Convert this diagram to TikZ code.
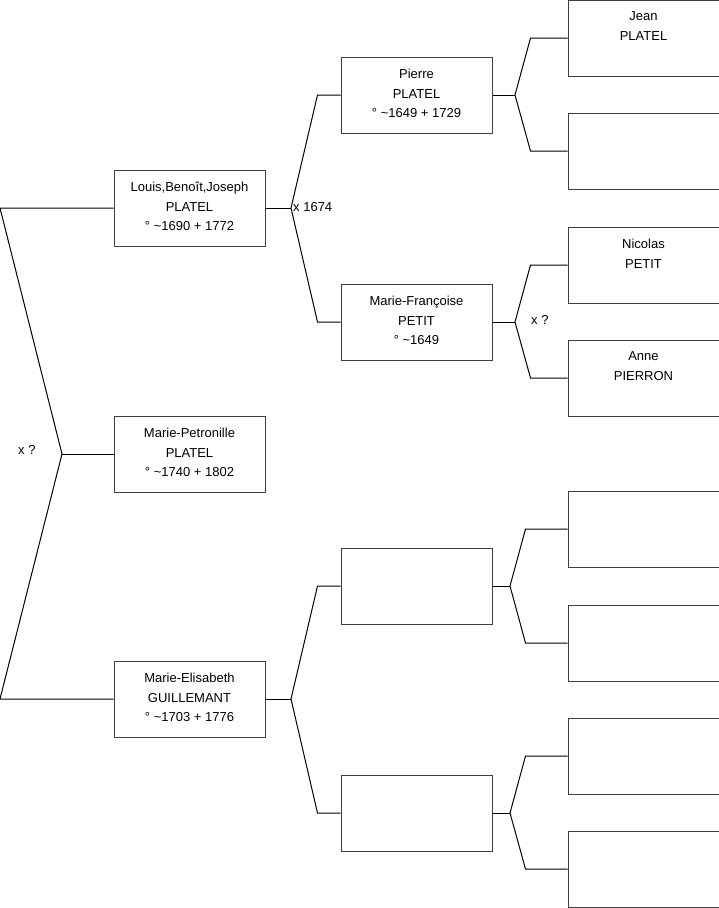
\documentclass[tikz,border=0pt]{standalone}
\usepackage{fontspec}
\setmainfont{Liberation Sans}
\usetikzlibrary{positioning}

\begin{document}
\begin{tikzpicture}[
    x=1pt, y=1pt,
    font=\fontsize{13}{19.7}\selectfont,
    person/.style={
        rectangle,
        draw=black!75,
        line width=1pt,
        inner sep=0pt,
        minimum width=151pt,
        minimum height=76pt,
        execute at begin node={\begin{minipage}[c][76pt][t]{151pt}\centering\vspace*{12pt}},
        execute at end node={\end{minipage}}
    },
    link/.style={line width=1pt},
    union/.style={anchor=west, inner sep=0pt}
]
\useasboundingbox (0,0) rectangle (719,-908);

% first generation
\node[person] (louis) at (189.5,-208) {Louis,Benoît,Joseph\\PLATEL\\° \textasciitilde1690 + 1772};
\node[person] (petronille) at (189.5,-454) {Marie-Petronille\\PLATEL\\° \textasciitilde1740 + 1802};
\node[person] (elisabeth) at (189.5,-699) {Marie-Elisabeth\\GUILLEMANT\\° \textasciitilde1703 + 1776};

% parents
\node[person] (pierre) at (416.5,-95) {Pierre\\PLATEL\\° \textasciitilde1649 + 1729};
\node[person] (francoise) at (416.5,-322) {Marie-Françoise\\PETIT\\° \textasciitilde1649};
\node[person] (pereB) at (416.5,-586) {};
\node[person] (mereB) at (416.5,-813) {};

% grand-parents
\node[person] (jean) at (643.5,-38) {Jean\\PLATEL};
\node[person] (mereP) at (643.5,-151) {};
\node[person] (nicolas) at (643.5,-265) {Nicolas\\PETIT};
\node[person] (anne) at (643.5,-378) {Anne\\PIERRON};
\node[person] (gpA) at (643.5,-529) {};
\node[person] (gpB) at (643.5,-643) {};
\node[person] (gpC) at (643.5,-756) {};
\node[person] (gpD) at (643.5,-869) {};

% fork points
\coordinate (f0) at (62,-454);
\coordinate (f1) at (291,-208);
\coordinate (f2) at (291,-699);
\coordinate (f3) at (515,-95);
\coordinate (f4) at (515,-322);
\coordinate (f5) at (510,-586);
\coordinate (f6) at (510,-813);

\draw[link] (louis.west) -- (louis.west -| 0,0) -- (f0) -- (elisabeth.west -| 0,0) -- (elisabeth.west);
\draw[link] (f0) -- (petronille.west);

\draw[link] (louis.east) -- (f1);
\draw[link] (pierre.west) -- ([xshift=-23pt]pierre.west) -- (f1) -- ([xshift=-23pt]francoise.west) -- (francoise.west);
\draw[link] (elisabeth.east) -- (f2);
\draw[link] (pereB.west) -- ([xshift=-23pt]pereB.west) -- (f2) -- ([xshift=-23pt]mereB.west) -- (mereB.west);

\draw[link] (pierre.east) -- (f3);
\draw[link] (jean.west) -- ([xshift=-37pt]jean.west) -- (f3) -- ([xshift=-37pt]mereP.west) -- (mereP.west);
\draw[link] (francoise.east) -- (f4);
\draw[link] (nicolas.west) -- ([xshift=-37pt]nicolas.west) -- (f4) -- ([xshift=-37pt]anne.west) -- (anne.west);
\draw[link] (pereB.east) -- (f5);
\draw[link] (gpA.west) -- ([xshift=-42pt]gpA.west) -- (f5) -- ([xshift=-42pt]gpB.west) -- (gpB.west);
\draw[link] (mereB.east) -- (f6);
\draw[link] (gpC.west) -- ([xshift=-42pt]gpC.west) -- (f6) -- ([xshift=-42pt]gpD.west) -- (gpD.west);

% marriages
\node[union] (m0) at (18,-450) {x ?};
\node[union] (m1) at (293,-207) {x 1674};
\node[union] (m2) at (531,-320) {x ?};

\end{tikzpicture}
\end{document}
